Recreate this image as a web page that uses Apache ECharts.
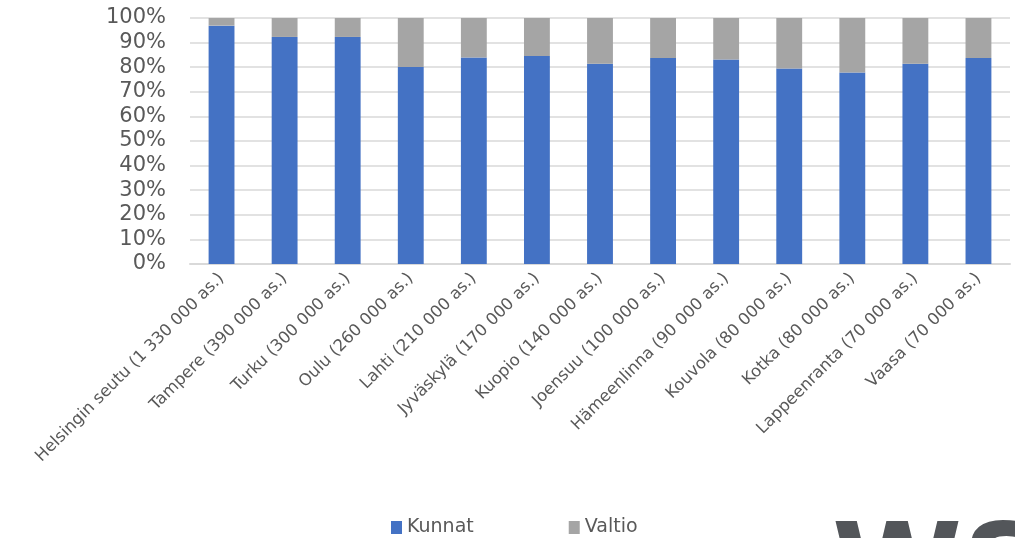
<!DOCTYPE html>
<html><head><meta charset="utf-8">
<script src="https://cdn.jsdelivr.net/npm/echarts@6/dist/echarts.min.js"></script>
<style>html,body{margin:0;padding:0;background:#fff}#c{width:1015px;height:538px}</style>
</head><body><div id="c"></div>
<script>
const categories = ["Helsingin seutu (1 330 000 as.)","Tampere (390 000 as.)","Turku (300 000 as.)","Oulu (260 000 as.)","Lahti (210 000 as.)","Jyväskylä (170 000 as.)","Kuopio (140 000 as.)","Joensuu (100 000 as.)","Hämeenlinna (90 000 as.)","Kouvola (80 000 as.)","Kotka (80 000 as.)","Lappeenranta (70 000 as.)","Vaasa (70 000 as.)"];
const kunnat = [96.9, 92.3, 92.3, 80.1, 83.9, 84.6, 81.4, 83.7, 83.1, 79.5, 77.8, 81.4, 83.7];
const valtio = kunnat.map(v => +(100 - v).toFixed(1));
const seriesNames = ["Kunnat", "Valtio"];
const colors = ["#4472C4", "#A5A5A5"];
const font = "'DejaVu Sans'";
const chart = echarts.init(document.getElementById('c'), null, {renderer:'canvas'});
chart.setOption({
  animation:false,
  textStyle:{fontFamily:font},
  grid:{left:190,right:5,top:18,bottom:274,containLabel:false},
  legend:{bottom:-4,left:386,itemWidth:11,itemHeight:13,itemGap:95,
    icon:'rect',textStyle:{fontSize:19,color:'#595959',fontFamily:font},
    data:seriesNames},
  xAxis:{type:'category',data:categories,
    axisLine:{lineStyle:{color:'#D9D9D9',width:2}},axisTick:{show:false},
    axisLabel:{rotate:45,fontSize:16.5,color:'#595959',margin:12,interval:0,fontFamily:font}},
  yAxis:{type:'value',min:0,max:100,interval:10,
    axisLabel:{formatter:'{value}%',fontSize:21,color:'#595959',margin:24,fontFamily:font},
    splitLine:{lineStyle:{color:'#D9D9D9',width:1.5}},axisLine:{show:false},axisTick:{show:false}},
  series:[
    {name:seriesNames[0],type:'bar',stack:'a',data:kunnat,barWidth:'41%',itemStyle:{color:colors[0]}},
    {name:seriesNames[1],type:'bar',stack:'a',data:valtio,barWidth:'41%',itemStyle:{color:colors[1]}}
  ],
  graphic:[{type:'text',left:832,top:517,silent:true,
    style:{text:'WSP',fontSize:118,fontWeight:'bold',fill:'#53565A',fontFamily:font}}]
});
</script></body></html>
